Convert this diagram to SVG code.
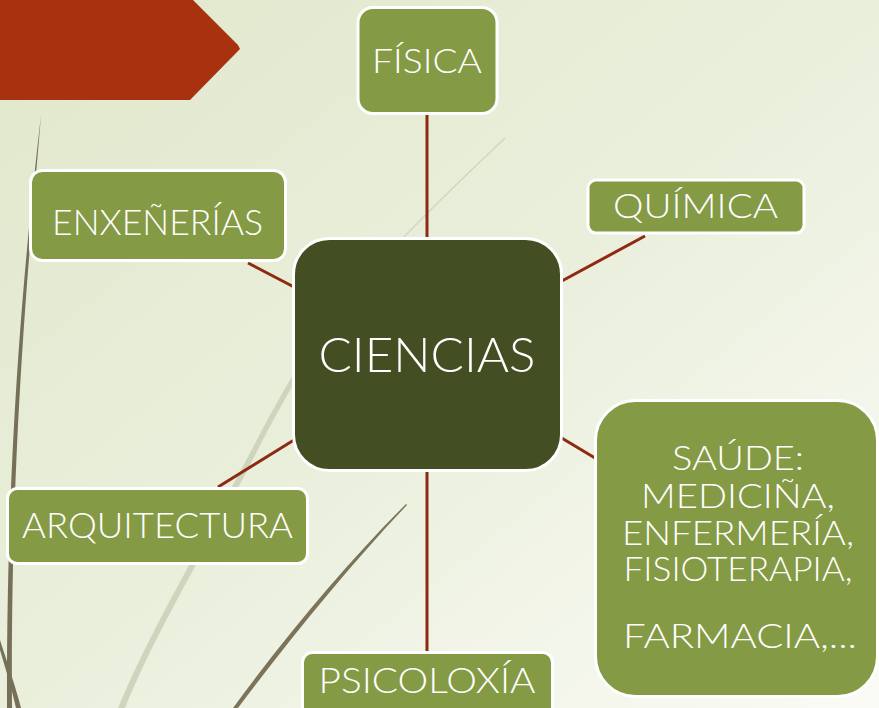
<svg xmlns="http://www.w3.org/2000/svg" width="879" height="708" viewBox="0 0 879 708">
  <defs>
    <linearGradient id="bg" x1="0" y1="0" x2="1" y2="1">
      <stop offset="0" stop-color="#E0E8CB"/>
      <stop offset="0.5" stop-color="#EAEFDC"/>
      <stop offset="1" stop-color="#FAFBF5"/>
    </linearGradient>
    <style>
      .conn { stroke: #8E2A12; stroke-width: 3; fill: none; }
      .node { fill: #859A45; stroke: #FFFFFF; stroke-width: 3; }
      .center { fill: #434F23; stroke: #FFFFFF; stroke-width: 3; }
      .lbl { font-family: Lato, "Liberation Sans", Arial, sans-serif; font-weight: 300; fill: #FFFFFF; text-anchor: middle; }
    </style>
  </defs>

  <!-- background -->
  <rect x="0" y="0" width="879" height="708" fill="url(#bg)"/>

  <!-- decorative stems -->
  <g id="decor">
    <path d="M505,138 C450,190 410,230 380,262" stroke="#D2D4C2" stroke-width="1.2" fill="none"/>
    <path d="M380,262 C330,310 300,360 262,430 C205,540 155,620 118,708 L125,708 C160,622 210,545 267,432 C305,362 335,312 382,264 Z" fill="#CFD5BC"/>
    <path d="M406,504 C350,560 290,630 233,708 L238,708 C295,632 353,562 407,505 Z" fill="#7B7459"/>
    <path d="M41,115 C28,230 6,430 7,708 L12,708 C10,430 32,230 41,115 Z" fill="#777058"/>
    <path d="M0,650 C6,670 12,690 16,708 L21,708 C16,688 8,665 0,640 Z" fill="#777058"/>
    <polygon points="0,0 193,0 238,45 240,49 190,100 0,100" fill="#A83210"/>
  </g>

  <!-- connectors -->
  <g id="connectors">
    <line class="conn" x1="427" y1="114" x2="427" y2="238"/>
    <line class="conn" x1="645" y1="236" x2="560" y2="282"/>
    <line class="conn" x1="248" y1="263" x2="294" y2="287"/>
    <line class="conn" x1="218" y1="487" x2="294" y2="440"/>
    <line class="conn" x1="427" y1="471" x2="427" y2="652"/>
    <line class="conn" x1="560" y1="437" x2="595" y2="458"/>
  </g>

  <g id="node-fisica">
    <rect class="node" x="358" y="7.5" width="139" height="106" rx="15"/>
    <text class="lbl" x="427" y="73" font-size="34" textLength="110" lengthAdjust="spacingAndGlyphs">FÍSICA</text>
  </g>

  <g id="node-quimica">
    <rect class="node" x="588" y="180" width="216" height="53" rx="8"/>
    <text class="lbl" x="695.5" y="218" font-size="34" textLength="165" lengthAdjust="spacingAndGlyphs">QUÍMICA</text>
  </g>

  <g id="node-enxenerias">
    <rect class="node" x="30.5" y="170.5" width="255" height="90" rx="12"/>
    <text class="lbl" x="157.5" y="235" font-size="36" textLength="211" lengthAdjust="spacingAndGlyphs">ENXEÑERÍAS</text>
  </g>

  <g id="node-ciencias">
    <rect class="center" x="293.5" y="238.5" width="268" height="232" rx="36"/>
    <text class="lbl" x="427" y="372" font-size="47" textLength="217" lengthAdjust="spacingAndGlyphs">CIENCIAS</text>
  </g>

  <g id="node-arquitectura">
    <rect class="node" x="7.5" y="488.5" width="300" height="75" rx="10"/>
    <text class="lbl" x="157.5" y="538" font-size="36" textLength="271" lengthAdjust="spacingAndGlyphs">ARQUITECTURA</text>
  </g>

  <g id="node-psicoloxia">
    <rect class="node" x="302.5" y="652.5" width="250" height="70" rx="10"/>
    <text class="lbl" x="427" y="693" font-size="36" textLength="217" lengthAdjust="spacingAndGlyphs">PSICOLOXÍA</text>
  </g>

  <g id="node-saude">
    <rect class="node" x="595.5" y="400.5" width="282" height="296" rx="40"/>
    <text class="lbl" x="738" y="470" font-size="33" textLength="132" lengthAdjust="spacingAndGlyphs">SAÚDE:</text>
    <text class="lbl" x="738" y="508" font-size="33" textLength="194" lengthAdjust="spacingAndGlyphs">MEDICIÑA,</text>
    <text class="lbl" x="738" y="545" font-size="33" textLength="232" lengthAdjust="spacingAndGlyphs">ENFERMERÍA,</text>
    <text class="lbl" x="738" y="581" font-size="33" textLength="229" lengthAdjust="spacingAndGlyphs">FISIOTERAPIA,</text>
    <text class="lbl" x="740" y="648" font-size="34" textLength="234" lengthAdjust="spacingAndGlyphs">FARMACIA,...</text>
  </g>
</svg>
